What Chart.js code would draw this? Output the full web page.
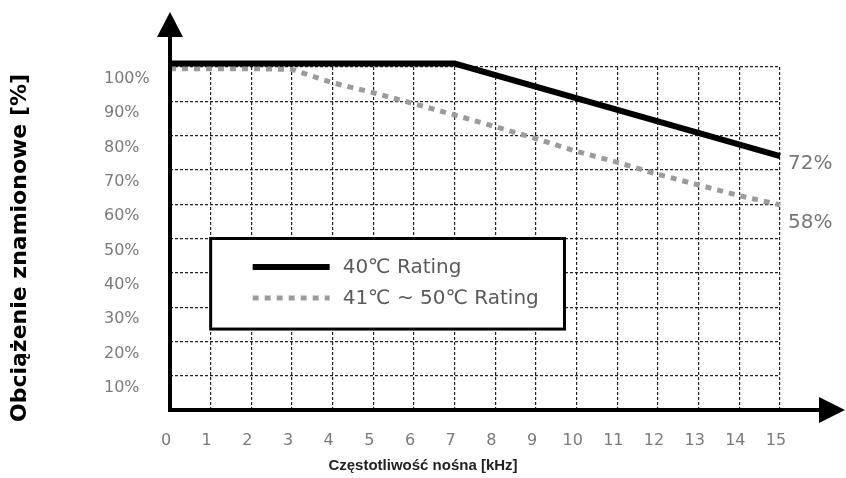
<!DOCTYPE html>
<html>
<head>
<meta charset="utf-8">
<script src="https://cdn.jsdelivr.net/npm/chart.js@4/dist/chart.umd.min.js"></script>
<style>
html,body{margin:0;padding:0;background:#fff;}
#wrap{width:846px;height:478px;}
</style>
</head>
<body>
<div id="wrap"><canvas id="c" width="846" height="478"></canvas></div>
<script>
// ---- data ----
const freq40 = [0, 7, 15];                 // kHz
const load40 = [101, 101, 74];             // %
const freq50 = [0, 1, 2, 3, 4, 5, 6, 7, 8, 9, 10, 11, 12, 13, 14, 15];
const load50 = [99.5, 99.5, 99.5, 99.3, 95.4, 92.5, 89.3, 86.0, 82.6, 79.1, 75.4, 72.2, 68.7, 65.6, 62.5, 59.8];
const seriesLabels = ['40\u2103 Rating', '41\u2103 ~ 50\u2103 Rating'];
const endLabels = ['72%', '58%'];
const xTickValues = [0, 1, 2, 3, 4, 5, 6, 7, 8, 9, 10, 11, 12, 13, 14, 15];
const yTickValues = [0, 10, 20, 30, 40, 50, 60, 70, 80, 90, 100];
const xTitle = 'Częstotliwość nośna [kHz]';
const yTitle = 'Obciążenie znamionowe [%]';

const toPts = (xs, ys) => xs.map((v, i) => ({x: v, y: ys[i]}));

// legend box drawn inside the plot, positioned through the scales
const insideLegend = {
  id: 'insideLegend',
  afterDatasetsDraw(chart, args, o) {
    const {ctx, scales: {x, y}} = chart;
    const l = x.getPixelForValue(o.x0), r = x.getPixelForValue(o.x1);
    const t = y.getPixelForValue(o.y0), b = y.getPixelForValue(o.y1);
    ctx.save();
    ctx.fillStyle = '#fff';
    ctx.fillRect(l, t, r - l, b - t);
    ctx.lineWidth = 3;
    ctx.strokeStyle = '#000';
    ctx.strokeRect(l, t, r - l, b - t);
    chart.data.datasets.forEach((ds, i) => {
      const yy = Math.round(t + (b - t) * (0.31 + 0.35 * i));
      ctx.beginPath();
      ctx.setLineDash(ds.borderDash || []);
      ctx.lineWidth = ds.borderWidth;
      ctx.strokeStyle = ds.borderColor;
      ctx.lineCap = 'butt';
      ctx.moveTo(l + 42, yy);
      ctx.lineTo(l + 119, yy);
      ctx.stroke();
      ctx.setLineDash([]);
      ctx.fillStyle = '#5a5a5a';
      ctx.font = '20px "DejaVu Sans"';
      ctx.textBaseline = 'middle';
      ctx.textAlign = 'left';
      ctx.fillText(ds.label, l + 132, yy + 1);
    });
    ctx.restore();
  }
};

// value labels at line ends
const endValueLabels = {
  id: 'endValueLabels',
  afterDatasetsDraw(chart, args, o) {
    const {ctx} = chart;
    ctx.save();
    ctx.fillStyle = '#777';
    ctx.font = '20px "DejaVu Sans"';
    ctx.textBaseline = 'middle';
    ctx.textAlign = 'left';
    chart.data.datasets.forEach((ds, i) => {
      const meta = chart.getDatasetMeta(i);
      const p = meta.data[meta.data.length - 1];
      ctx.fillText(endLabels[i], p.x + o.dx, p.y + o.dy[i]);
    });
    ctx.restore();
  }
};

// thick axes with arrowheads
const arrowAxes = {
  id: 'arrowAxes',
  afterDraw(chart) {
    const {ctx, chartArea: a} = chart;
    ctx.save();
    ctx.strokeStyle = '#000';
    ctx.fillStyle = '#000';
    ctx.lineWidth = 4;
    ctx.setLineDash([]);
    ctx.beginPath();
    ctx.moveTo(a.left, a.bottom + 2);
    ctx.lineTo(a.left, 34);
    ctx.moveTo(a.left - 2, a.bottom);
    ctx.lineTo(822, a.bottom);
    ctx.stroke();
    ctx.beginPath();
    ctx.moveTo(a.left - 13, 37);
    ctx.lineTo(a.left, 12);
    ctx.lineTo(a.left + 13, 37);
    ctx.closePath();
    ctx.fill();
    ctx.beginPath();
    ctx.moveTo(819, a.bottom - 13);
    ctx.lineTo(845, a.bottom);
    ctx.lineTo(819, a.bottom + 13);
    ctx.closePath();
    ctx.fill();
    ctx.restore();
  }
};

const gridColor = '#222';

new Chart(document.getElementById('c'), {
  type: 'line',
  data: {
    datasets: [
      {
        label: seriesLabels[0],
        data: toPts(freq40, load40),
        borderColor: '#000',
        borderWidth: 6,
        pointRadius: 0,
        tension: 0,
        clip: false,
        borderJoinStyle: 'miter'
      },
      {
        label: seriesLabels[1],
        data: toPts(freq50, load50),
        borderColor: '#9b9b9b',
        borderWidth: 5,
        borderDash: [6, 6],
        pointRadius: 0,
        tension: 0,
        clip: false
      }
    ]
  },
  options: {
    responsive: false,
    animation: false,
    layout: {padding: {top: 18, left: 0, right: 0, bottom: 0}},
    plugins: {
      legend: {display: false},
      tooltip: {enabled: false},
      title: {
        display: true,
        text: xTitle,
        position: 'bottom',
        color: '#222',
        font: {family: '"Liberation Sans", Arial, sans-serif', size: 15, weight: 'bold'},
        padding: {top: 0, bottom: 3}
      },
      subtitle: {
        display: true,
        text: yTitle,
        position: 'left',
        color: '#000',
        font: {family: '"DejaVu Sans"', size: 22, weight: 'bold', lineHeight: 1.2},
        padding: {top: 7, bottom: 70.6}
      },
      insideLegend: {x0: 1, x1: 9.7, y0: 50, y1: 23.6},
      endValueLabels: {dx: 8, dy: [8, 18]}
    },
    scales: {
      x: {
        type: 'linear',
        min: 0,
        max: 15,
        afterBuildTicks: s => { s.ticks = xTickValues.map(v => ({value: v})); },
        afterFit: s => { s.height = 47; },
        grid: {color: gridColor, lineWidth: 1.2, drawTicks: false},
        border: {display: false, dash: [3, 2]},
        ticks: {
          color: '#7a7a7a',
          font: {family: '"DejaVu Sans"', size: 16},
          padding: 21,
          labelOffset: -4,
          autoSkip: false,
          maxRotation: 0,
          callback: v => String(v)
        }
      },
      x2: {
        type: 'linear',
        position: 'top',
        display: true,
        afterFit: s => { s.height = 49; },
        grid: {display: false},
        border: {display: false},
        ticks: {display: false}
      },
      y: {
        type: 'linear',
        min: 0,
        max: 100,
        afterBuildTicks: s => { s.ticks = yTickValues.map(v => ({value: v})); },
        afterFit: s => { s.width = 66; },
        grid: {color: gridColor, lineWidth: 1.2, drawTicks: false},
        border: {display: false, dash: [3, 2]},
        ticks: {
          color: '#7a7a7a',
          font: {family: '"DejaVu Sans"', size: 16},
          padding: 12,
          crossAlign: 'far',
          labelOffset: 12,
          callback: v => (v === 0 ? '' : v + '%')
        }
      },
      y2: {
        type: 'linear',
        position: 'right',
        display: true,
        afterFit: s => { s.width = 66; },
        grid: {display: false},
        border: {display: false},
        ticks: {display: false}
      }
    }
  },
  plugins: [insideLegend, endValueLabels, arrowAxes]
});
</script>
</body>
</html>
